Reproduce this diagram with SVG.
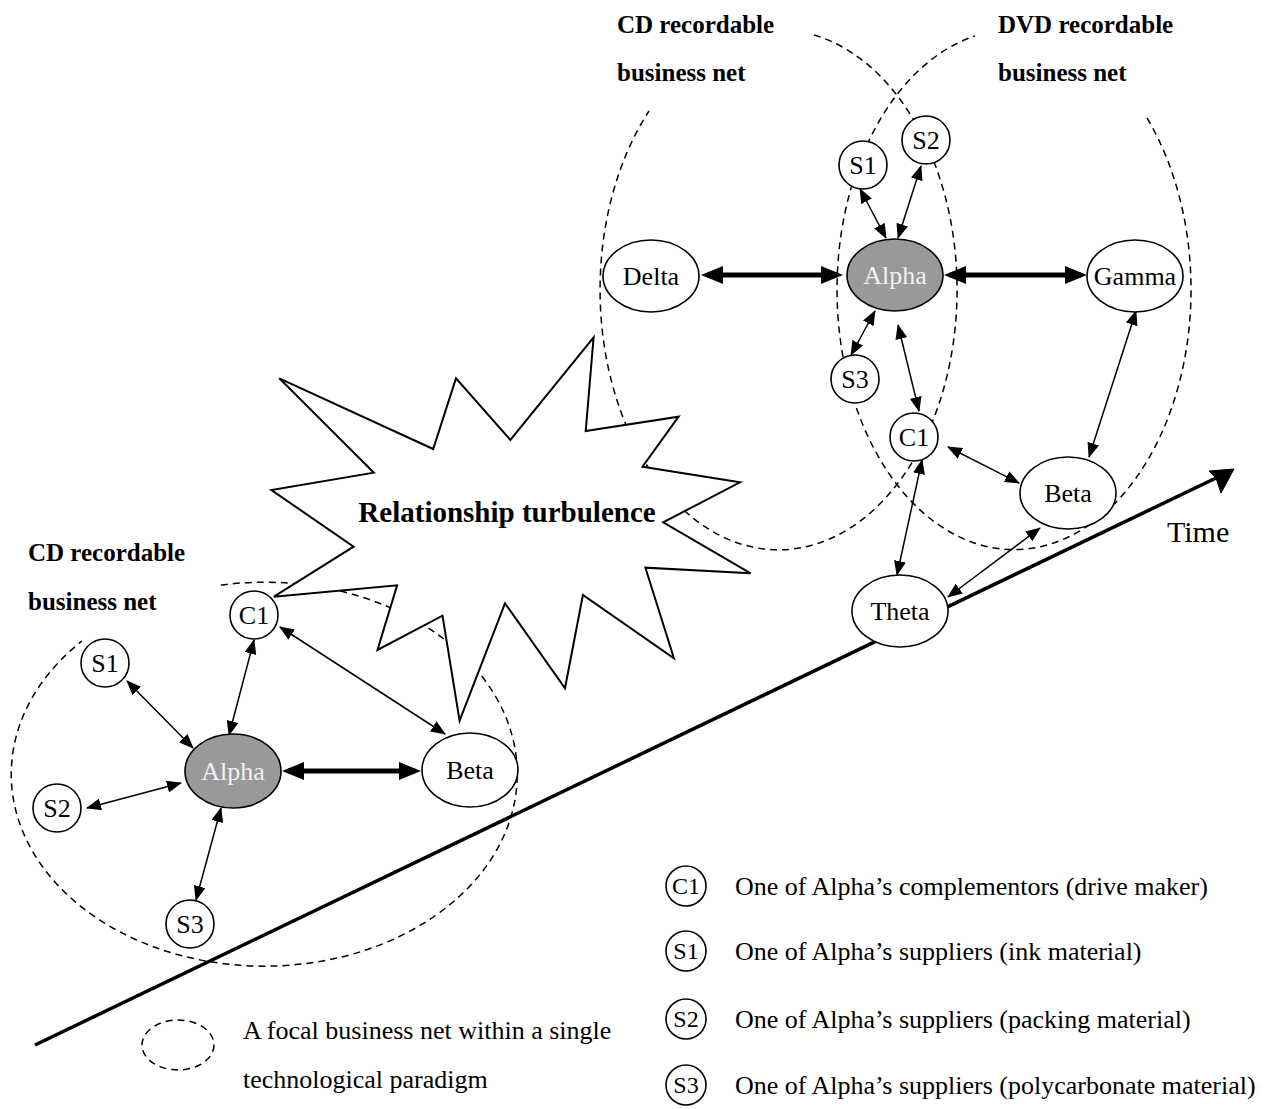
<svg xmlns="http://www.w3.org/2000/svg" width="1282" height="1109" viewBox="0 0 1282 1109">
<defs>
<style>
text{font-family:"Liberation Serif","Times New Roman",serif;fill:#000}
.lbl{font-size:25px;font-weight:bold}
.nt{font-size:26px;text-anchor:middle}
.nw{font-size:26px;text-anchor:middle;fill:#f2f2f2}
.lt{font-size:24px;text-anchor:middle}
.lg{font-size:26px}
.node{fill:#fff;stroke:#000;stroke-width:1.6}
.focal{fill:#999;stroke:#000;stroke-width:1.6}
.dash{fill:none;stroke:#000;stroke-width:1.5;stroke-dasharray:7 5}
.thin{fill:none;stroke:#000;stroke-width:1.5;marker-start:url(#ah);marker-end:url(#ah)}
.thick{fill:none;stroke:#000;stroke-width:5;marker-start:url(#ahb);marker-end:url(#ahb)}
</style>
<marker id="ah" viewBox="0 0 15 12" refX="14" refY="6" markerWidth="15" markerHeight="12" markerUnits="userSpaceOnUse" orient="auto-start-reverse"><path d="M0,0 L15,6 L0,12 z" fill="#000"/></marker>
<marker id="ahb" viewBox="0 0 22 18" refX="16" refY="9" markerWidth="22" markerHeight="18" markerUnits="userSpaceOnUse" orient="auto-start-reverse"><path d="M0,0 L22,9 L0,18 z" fill="#000"/></marker>
</defs>
<rect width="1282" height="1109" fill="#fff"/>

<g id="business-nets">
<path class="dash" d="M814,35 A178.5,260 0 1,1 649,111"/>
<path class="dash" d="M1147,118 A177,260 0 1,1 975,36"/>
<path class="dash" d="M221,585 A253,192 0 1,1 82,641"/>
</g>

<g id="time-axis">
<line x1="35" y1="1045" x2="1216" y2="478" stroke="#000" stroke-width="3.5"/>
<path d="M1234,469 L1221,493 L1216,478 L1209,471 z" fill="#000" stroke="#000" stroke-width="1"/>
<text x="1167" y="542" style="font-size:30px">Time</text>
</g>

<g id="turbulence">
<polygon points="279.3,378.3 373.9,472.7 271.4,490 353.6,546.7 273.9,596.7 397.1,585.3 377.5,650 442.5,615.7 459.6,720.7 505,603.3 565,688.3 582.9,595 673.9,658.3 645.4,567.7 750.7,573.3 663.2,522.3 740,482.3 642.5,466.7 678.6,416.7 585.7,431 593.6,337.3 510.4,440 456,378.3 433.2,449" fill="#fff" stroke="#000" stroke-width="2" stroke-linejoin="miter"/>
<text x="507" y="522" text-anchor="middle" style="font-size:29px;font-weight:bold">Relationship turbulence</text>
</g>

<g id="connectors">
<line class="thin" x1="127" y1="681" x2="193" y2="748"/>
<line class="thin" x1="87" y1="808" x2="181" y2="783"/>
<line class="thin" x1="196" y1="900" x2="221" y2="808"/>
<line class="thin" x1="254" y1="640" x2="229" y2="735"/>
<line class="thin" x1="280" y1="627" x2="445" y2="734"/>
<line class="thick" x1="288" y1="771" x2="415" y2="771"/>
<line class="thin" x1="860" y1="189" x2="886" y2="238"/>
<line class="thin" x1="921" y1="166" x2="898" y2="238"/>
<line class="thin" x1="851" y1="355" x2="875" y2="311"/>
<line class="thin" x1="898" y1="325" x2="919" y2="411"/>
<line class="thin" x1="922" y1="460" x2="897" y2="575"/>
<line class="thin" x1="948" y1="447" x2="1019" y2="483"/>
<line class="thin" x1="1136" y1="311" x2="1089" y2="457"/>
<line class="thin" x1="1040" y1="528" x2="948" y2="597"/>
<line class="thick" x1="707" y1="275" x2="837" y2="275"/>
<line class="thick" x1="950" y1="275" x2="1081" y2="275"/>
</g>

<g id="alpha-cd"><ellipse class="focal" cx="233" cy="771" rx="48" ry="37"/><text class="nw" x="233" y="780">Alpha</text></g>
<g id="beta-cd"><ellipse class="node" cx="470" cy="770" rx="48" ry="37"/><text class="nt" x="470" y="779">Beta</text></g>
<g id="c1-cd"><circle class="node" cx="254" cy="615" r="24"/><text class="nt" x="254" y="624">C1</text></g>
<g id="s1-cd"><circle class="node" cx="105" cy="663" r="24"/><text class="nt" x="105" y="672">S1</text></g>
<g id="s2-cd"><circle class="node" cx="57" cy="808" r="24"/><text class="nt" x="57" y="817">S2</text></g>
<g id="s3-cd"><circle class="node" cx="190" cy="924" r="24"/><text class="nt" x="190" y="933">S3</text></g>

<g id="delta"><ellipse class="node" cx="651" cy="276" rx="48" ry="36"/><text class="nt" x="651" y="285">Delta</text></g>
<g id="alpha-dvd"><ellipse class="focal" cx="895" cy="275" rx="48" ry="36"/><text class="nw" x="895" y="284">Alpha</text></g>
<g id="gamma"><ellipse class="node" cx="1135" cy="276" rx="48" ry="36"/><text class="nt" x="1135" y="285">Gamma</text></g>
<g id="s1-dvd"><circle class="node" cx="863" cy="165" r="24"/><text class="nt" x="863" y="174">S1</text></g>
<g id="s2-dvd"><circle class="node" cx="926" cy="140" r="24"/><text class="nt" x="926" y="149">S2</text></g>
<g id="s3-dvd"><circle class="node" cx="855" cy="379" r="24"/><text class="nt" x="855" y="388">S3</text></g>
<g id="c1-dvd"><circle class="node" cx="914" cy="437" r="24"/><text class="nt" x="914" y="446">C1</text></g>
<g id="beta-dvd"><ellipse class="node" cx="1068" cy="493" rx="48" ry="36"/><text class="nt" x="1068" y="502">Beta</text></g>
<g id="theta"><ellipse class="node" cx="900" cy="611" rx="48" ry="36"/><text class="nt" x="900" y="620">Theta</text></g>

<g id="labels">
<text class="lbl" x="617" y="33">CD recordable</text>
<text class="lbl" x="617" y="81">business net</text>
<text class="lbl" x="998" y="33">DVD recordable</text>
<text class="lbl" x="998" y="81">business net</text>
<text class="lbl" x="28" y="561">CD recordable</text>
<text class="lbl" x="28" y="610">business net</text>
</g>

<g id="legend">
<ellipse class="dash" cx="178" cy="1045" rx="36" ry="25"/>
<text class="lg" x="243" y="1039">A focal business net within a single</text>
<text class="lg" x="243" y="1088">technological paradigm</text>
<circle class="node" cx="686" cy="886" r="20"/><text class="lt" x="686" y="894">C1</text>
<text class="lg" x="735" y="895">One of Alpha’s complementors (drive maker)</text>
<circle class="node" cx="686" cy="951" r="20"/><text class="lt" x="686" y="959">S1</text>
<text class="lg" x="735" y="960">One of Alpha’s suppliers (ink material)</text>
<circle class="node" cx="686" cy="1019" r="20"/><text class="lt" x="686" y="1027">S2</text>
<text class="lg" x="735" y="1028">One of Alpha’s suppliers (packing material)</text>
<circle class="node" cx="686" cy="1085" r="20"/><text class="lt" x="686" y="1093">S3</text>
<text class="lg" x="735" y="1094">One of Alpha’s suppliers (polycarbonate material)</text>
</g>
</svg>
